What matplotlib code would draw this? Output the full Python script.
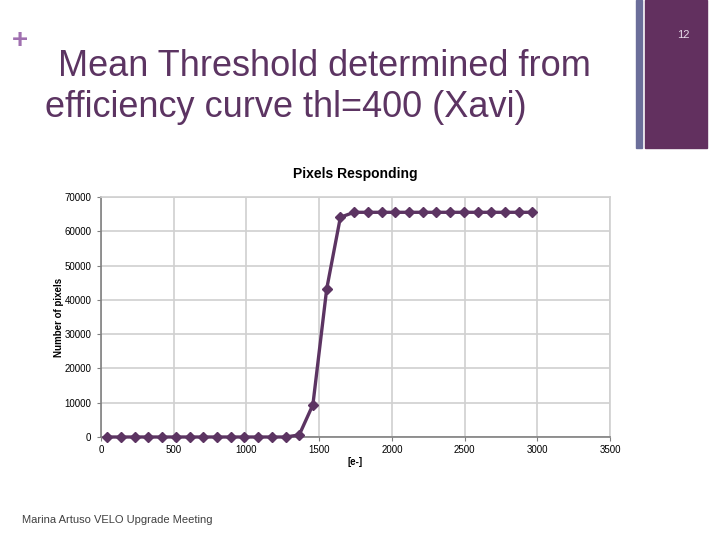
import matplotlib
matplotlib.use("Agg")
import matplotlib.pyplot as plt
from matplotlib.patches import Rectangle

plt.rcParams['font.family'] = ['Liberation Sans', 'DejaVu Sans']

# threshold scan: charge [e-] vs number of pixels responding
charge = [43, 137, 232, 326, 420, 515, 609, 703, 797, 892, 986, 1080, 1175, 1269, 1363,
          1457, 1552, 1646, 1740, 1835, 1929, 2023, 2118, 2212, 2306, 2400, 2495, 2589,
          2683, 2778, 2872, 2966]
pixels = [0, 0, 0, 0, 0, 0, 0, 0, 0, 0, 0, 0, 0, 0, 600,
          9400, 43200, 64100, 65536, 65536, 65536, 65536, 65536, 65536, 65536, 65536,
          65536, 65536, 65536, 65536, 65536, 65536]

purple = '#5c3462'
fig = plt.figure(figsize=(7.2, 5.4), dpi=100)

# slide decorations
fig.text(0.028, 0.925, '+', color='#a070b0', fontsize=20, fontweight='bold', ha='center', va='center')
fig.text(0.081, 0.876, 'Mean Threshold determined from', color=purple, fontsize=26, ha='left', va='center')
fig.text(0.062, 0.801, 'efficiency curve thl=400 (Xavi)', color=purple, fontsize=26, ha='left', va='center')
fig.patches.append(Rectangle((636/720, 1-148/540), 6/720, 148/540, transform=fig.transFigure,
                             color='#6b6e9a', zorder=0))
fig.patches.append(Rectangle((645/720, 1-148/540), 62/720, 148/540, transform=fig.transFigure,
                             color='#62305f', zorder=0))
fig.text(0.949, 0.935, '12', color='#e8dcea', fontsize=8, ha='center', va='center')
fig.text(0.031, 0.037, 'Marina Artuso VELO Upgrade Meeting', color='#404040', fontsize=8, ha='left', va='center')

ax = fig.add_axes([101/720, 1-437/540, 509/720, 240/540])
ax.plot(charge, pixels, color=purple, lw=2.4, marker='D', ms=5, zorder=3, clip_on=False)
ax.set_xlim(0, 3500)
ax.set_ylim(0, 70000)
ax.set_xticks(range(0, 3501, 500))
ax.set_yticks(range(0, 70001, 10000))
ax.grid(True, color='#d0d0d0', lw=1.2)
ax.set_axisbelow(True)
for s in ['top', 'right']:
    ax.spines[s].set_color('#d0d0d0')
    ax.spines[s].set_linewidth(1.2)
for s in ['left', 'bottom']:
    ax.spines[s].set_color('#808080')
    ax.spines[s].set_linewidth(1.2)
ax.tick_params(axis='both', labelsize=7, color='#808080', length=3)
ax.tick_params(axis='x', pad=3)
ax.tick_params(axis='y', pad=4)
ax.set_title('Pixels Responding', fontsize=10, fontweight='bold', pad=14)
ax.set_ylabel('Number of pixels', fontsize=7, fontweight='bold', labelpad=0)
ax.set_xlabel('[e-]', fontsize=7, fontweight='bold', labelpad=1)

plt.savefig('out.png', dpi=100)
